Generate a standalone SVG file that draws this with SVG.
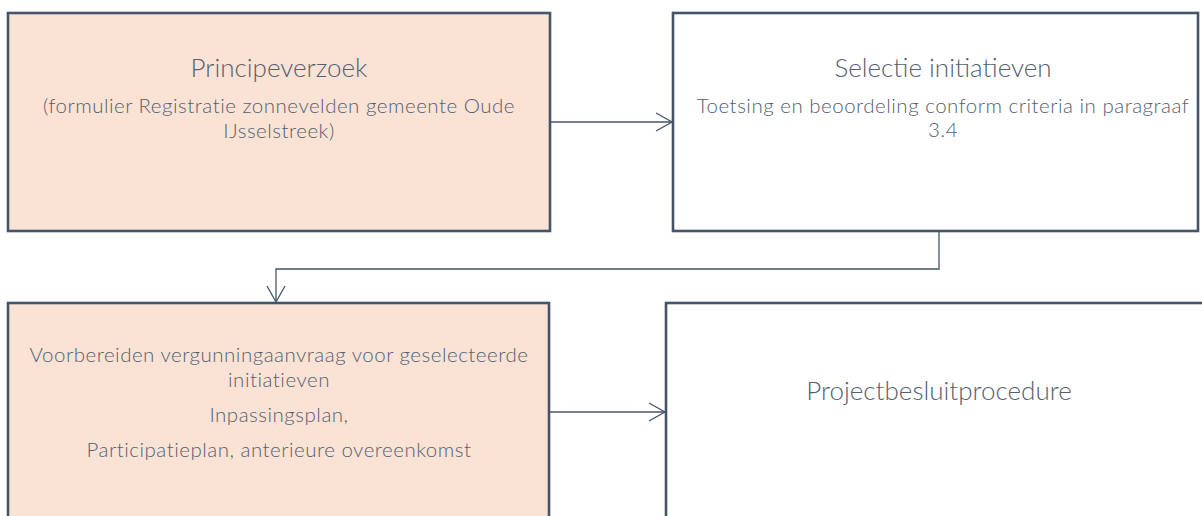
<svg xmlns="http://www.w3.org/2000/svg" width="1202" height="516" viewBox="0 0 1202 516">
<defs>
<style>
.box{stroke:#44546A;stroke-width:2.6}
.peach{fill:#FAE3D5}
.white{fill:#FFFFFF}
.t{font-family:Lato,"Liberation Sans",sans-serif;font-weight:300;fill:#556070;text-anchor:middle}
.big{font-size:26px}
.sm{font-size:20.5px;letter-spacing:0.5px}
.con{fill:none;stroke:#44546A;stroke-width:1.3}
</style>
<marker id="arr" viewBox="0 0 20 20" refX="18" refY="10" markerWidth="20" markerHeight="20" markerUnits="userSpaceOnUse" orient="auto">
<path d="M2,1 L18,10 L2,19" fill="none" stroke="#44546A" stroke-width="1.3"/>
</marker>
</defs>
<rect width="1202" height="516" fill="#FFFFFF"/>
<g id="connectors">
<path class="con" d="M550,122 H672" marker-end="url(#arr)"/>
<path class="con" d="M939,231 V269 H276 V302" marker-end="url(#arr)"/>
<path class="con" d="M550,412 H665" marker-end="url(#arr)"/>
</g>
<g id="node-principeverzoek">
<rect class="box peach" x="8" y="13" width="542" height="218"/>
<text class="t big" x="279" y="77">Principeverzoek</text>
<text class="t sm" x="279" y="113">(formulier Registratie zonnevelden gemeente Oude</text>
<text class="t sm" x="279" y="138">IJsselstreek)</text>
</g>
<g id="node-selectie">
<rect class="box white" x="673" y="13" width="525" height="218"/>
<text class="t big" x="943" y="77">Selectie initiatieven</text>
<text class="t sm" x="943" y="113">Toetsing en beoordeling conform criteria in paragraaf</text>
<text class="t sm" x="943" y="137">3.4</text>
</g>
<g id="node-voorbereiden">
<rect class="box peach" x="8" y="303" width="541" height="230"/>
<text class="t sm" x="279" y="362">Voorbereiden vergunningaanvraag voor geselecteerde</text>
<text class="t sm" x="279" y="387">initiatieven</text>
<text class="t sm" x="279" y="422">Inpassingsplan,</text>
<text class="t sm" x="279" y="457">Participatieplan, anterieure overeenkomst</text>
</g>
<g id="node-projectbesluit">
<rect class="box white" x="666" y="303" width="550" height="230"/>
<text class="t big" x="939" y="400">Projectbesluitprocedure</text>
</g>
</svg>
